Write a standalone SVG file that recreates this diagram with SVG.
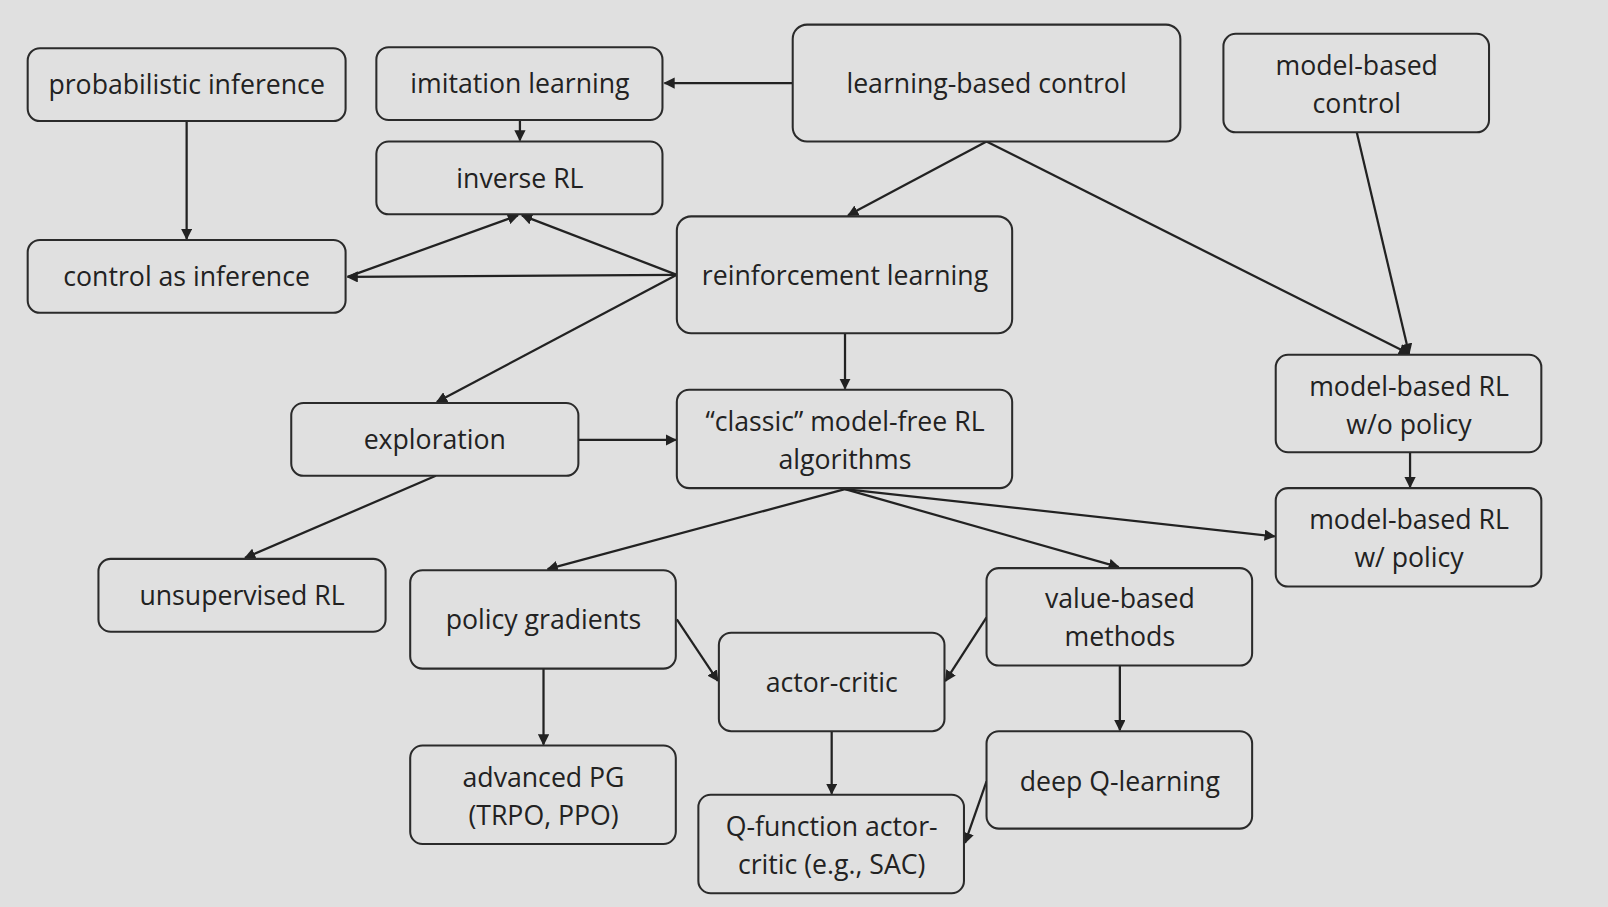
<svg xmlns="http://www.w3.org/2000/svg" width="1608" height="907" viewBox="0 0 1608 907">
<style>
.n rect{fill:#e0e0e0;stroke:#2b2b2b;stroke-width:2}
.n text{font-family:"Open Sans","Noto Sans",sans-serif;font-size:26px;fill:#222;text-anchor:middle}
.c line{stroke:#222;stroke-width:2.2;marker-end:url(#a)}
</style>
<defs><marker id="a" viewBox="0 0 10 10" refX="9" refY="5" markerWidth="5" markerHeight="5" orient="auto"><path d="M0,0L10,5L0,10z" fill="#222"/></marker></defs>
<rect width="1608" height="907" fill="#e0e0e0"/>
<g transform="scale(1.0255)">
<g class="c">
<line x1="773" y1="81" x2="648" y2="81"/>
<line x1="507" y1="117" x2="507" y2="137"/>
<line x1="182" y1="118" x2="182" y2="233"/>
<line x1="962" y1="138" x2="827" y2="210"/>
<line x1="962" y1="138" x2="1374" y2="345"/>
<line x1="1323" y1="129" x2="1374" y2="345"/>
<line x1="660" y1="268" x2="339" y2="270"/>
<line x1="660" y1="268" x2="509" y2="210"/>
<line x1="339" y1="270" x2="505" y2="210"/>
<line x1="660" y1="268" x2="426" y2="392"/>
<line x1="824" y1="325" x2="824" y2="379"/>
<line x1="564" y1="429" x2="659" y2="429"/>
<line x1="425" y1="464" x2="239" y2="544"/>
<line x1="824" y1="477" x2="534" y2="555"/>
<line x1="824" y1="477" x2="1091" y2="553"/>
<line x1="824" y1="477" x2="1243" y2="523"/>
<line x1="1375" y1="441" x2="1375" y2="475"/>
<line x1="660" y1="604" x2="700" y2="664"/>
<line x1="962" y1="602" x2="922" y2="664"/>
<line x1="530" y1="652" x2="530" y2="726"/>
<line x1="1092" y1="649" x2="1092" y2="712"/>
<line x1="811" y1="713" x2="811" y2="774"/>
<line x1="962" y1="762" x2="941" y2="822"/>
</g>
<g class="n" id="n1"><rect x="27" y="47" width="310" height="71" rx="12"/><text x="182" y="92">probabilistic inference</text></g>
<g class="n" id="n2"><rect x="367" y="46" width="279" height="71" rx="12"/><text x="507" y="91">imitation learning</text></g>
<g class="n" id="n3"><rect x="773" y="24" width="378" height="114" rx="14"/><text x="962" y="91">learning-based control</text></g>
<g class="n" id="n4"><rect x="1193" y="33" width="259" height="96" rx="12"/><text x="1323" y="73">model-based</text><text x="1323" y="110">control</text></g>
<g class="n" id="n5"><rect x="367" y="138" width="279" height="71" rx="12"/><text x="507" y="183">inverse RL</text></g>
<g class="n" id="n6"><rect x="27" y="234" width="310" height="71" rx="12"/><text x="182" y="279">control as inference</text></g>
<g class="n" id="n7"><rect x="660" y="211" width="327" height="114" rx="14"/><text x="824" y="278">reinforcement learning</text></g>
<g class="n" id="n8"><rect x="284" y="393" width="280" height="71" rx="12"/><text x="424" y="438">exploration</text></g>
<g class="n" id="n9"><rect x="660" y="380" width="327" height="96" rx="12"/><text x="824" y="420">“classic” model-free RL</text><text x="824" y="457">algorithms</text></g>
<g class="n" id="n10"><rect x="1244" y="346" width="259" height="95" rx="12"/><text x="1374" y="386">model-based RL</text><text x="1374" y="423">w/o policy</text></g>
<g class="n" id="n11"><rect x="1244" y="476" width="259" height="96" rx="12"/><text x="1374" y="516">model-based RL</text><text x="1374" y="553">w/ policy</text></g>
<g class="n" id="n12"><rect x="96" y="545" width="280" height="71" rx="12"/><text x="236" y="590">unsupervised RL</text></g>
<g class="n" id="n13"><rect x="400" y="556" width="259" height="96" rx="12"/><text x="530" y="613">policy gradients</text></g>
<g class="n" id="n14"><rect x="962" y="554" width="259" height="95" rx="12"/><text x="1092" y="593">value-based</text><text x="1092" y="630">methods</text></g>
<g class="n" id="n15"><rect x="701" y="617" width="220" height="96" rx="12"/><text x="811" y="675">actor-critic</text></g>
<g class="n" id="n16"><rect x="400" y="727" width="259" height="96" rx="12"/><text x="530" y="767">advanced PG</text><text x="530" y="804">(TRPO, PPO)</text></g>
<g class="n" id="n17"><rect x="962" y="713" width="259" height="95" rx="12"/><text x="1092" y="771">deep Q-learning</text></g>
<g class="n" id="n18"><rect x="681" y="775" width="259" height="96" rx="12"/><text x="811" y="815">Q-function actor-</text><text x="811" y="852">critic (e.g., SAC)</text></g>
</g>
</svg>
